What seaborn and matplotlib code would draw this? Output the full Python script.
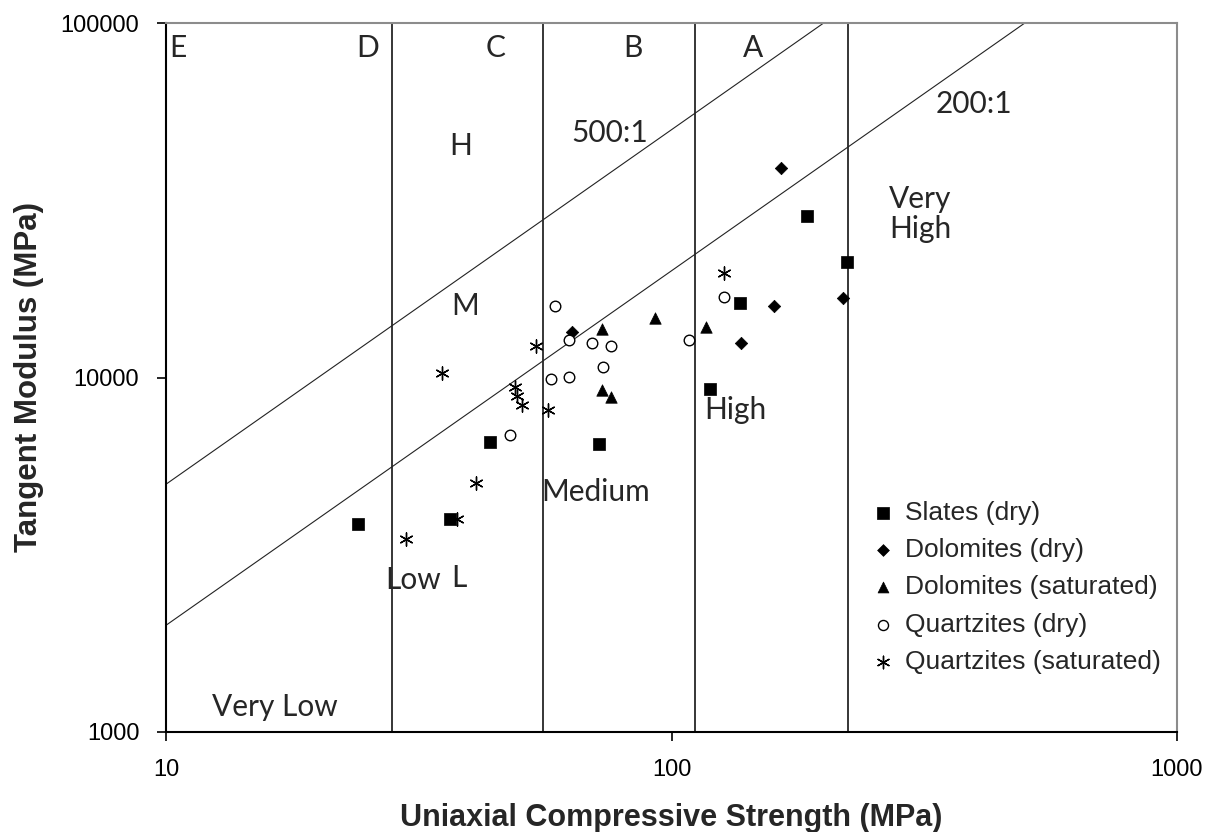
import numpy as np
import pandas as pd
import matplotlib
matplotlib.use("Agg")
import matplotlib.pyplot as plt
import seaborn as sns

# ---- data: uniaxial compressive strength (MPa) and tangent modulus (MPa) ----
slates_dry_ucs = [24.0, 36.4, 43.8, 71.8, 118.9, 136.6, 185.1, 222.3]
slates_dry_e = [3850, 3990, 6590, 6490, 9260, 16190, 28550, 21210]

dolomites_dry_ucs = [63.7, 137.4, 159.2, 164.8, 218.3]
dolomites_dry_e = [13470, 12490, 15910, 39070, 16800]

dolomites_sat_ucs = [73.0, 72.8, 76.0, 92.9, 117.1]
dolomites_sat_e = [13720, 9220, 8830, 14690, 13880]

quartzites_dry_ucs = [48.0, 57.7, 58.7, 62.6, 62.6, 69.6, 75.9, 73.1, 108.4, 126.9]
quartzites_dry_e = [6880, 9900, 15960, 12740, 10050, 12540, 12310, 10690, 12790, 16900]

quartzites_sat_ucs = [29.8, 35.1, 37.7, 41.1, 49.1, 49.5, 50.5, 54.0, 57.0, 126.9]
quartzites_sat_e = [3510, 10270, 3990, 5050, 9380, 8870, 8370, 12270, 8120, 19670]

series_names = ["Slates (dry)", "Dolomites (dry)", "Dolomites (saturated)",
                "Quartzites (dry)", "Quartzites (saturated)"]

# strength class boundaries (MPa) and modulus ratio lines
class_bounds = [28, 55.6, 111.5, 223]
class_letters = ["E", "D", "C", "B", "A"]
modulus_ratios = [500, 200]

x_ticks = [10, 100, 1000]
y_ticks = [1000, 10000, 100000]

sns.set_theme(style="white")
plt.rcParams["font.family"] = ["Liberation Sans", "DejaVu Sans"]

fig = plt.figure(figsize=(12.22, 8.32), dpi=100)
ax = fig.add_axes([166 / 1222, 1 - 732 / 832, (1177 - 166) / 1222, (732 - 23) / 832])

ax.set_xscale("log")
ax.set_yscale("log")
ax.set_xlim(10, 1000)
ax.set_ylim(1000, 100000)

# strength class boundaries
for b in class_bounds:
    ax.axvline(b, color="black", lw=1.1, zorder=1)

# modulus ratio lines
xr = np.array([10, 1000])
for r in modulus_ratios:
    sns.lineplot(x=xr, y=xr * r, ax=ax, color="#222222", lw=0.8, zorder=1)

frame = pd.concat([
    pd.DataFrame({"ucs": slates_dry_ucs, "e": slates_dry_e, "set": series_names[0]}),
    pd.DataFrame({"ucs": dolomites_dry_ucs, "e": dolomites_dry_e, "set": series_names[1]}),
    pd.DataFrame({"ucs": dolomites_sat_ucs, "e": dolomites_sat_e, "set": series_names[2]}),
    pd.DataFrame({"ucs": quartzites_dry_ucs, "e": quartzites_dry_e, "set": series_names[3]}),
    pd.DataFrame({"ucs": quartzites_sat_ucs, "e": quartzites_sat_e, "set": series_names[4]}),
])

styles = {
    series_names[0]: dict(marker="s", s=70, color="black", edgecolor="black", linewidth=0.5),
    series_names[1]: dict(marker="D", s=40, color="black", edgecolor="black", linewidth=0.5),
    series_names[2]: dict(marker="^", s=68, color="black", edgecolor="black", linewidth=0.5),
    series_names[3]: dict(marker="o", s=58, facecolor="white", edgecolor="black", linewidth=1.0),
    series_names[4]: dict(marker=(6, 2, 0), s=90, color="black", linewidth=1.0),
}
for name in series_names:
    sub = frame[frame["set"] == name]
    sns.scatterplot(data=sub, x="ucs", y="e", ax=ax, label=name, zorder=3, **styles[name])

# annotations
anno_font = ["Lato", "DejaVu Sans"]
tsize = 21.5
for letter, xpos in zip(class_letters, [10.56, 25.07, 44.9, 83.7, 145.2]):
    ax.text(xpos, 85000, letter, ha="center", va="center", fontsize=tsize, family=anno_font)
ax.text(38.3, 44980, "H", ha="center", va="center", fontsize=tsize, family=anno_font)
ax.text(39.0, 15910, "M", ha="center", va="center", fontsize=tsize, family=anno_font)
ax.text(37.9, 2720, "L", ha="center", va="center", fontsize=tsize, family=anno_font)
ax.text(75.4, 48950, "500:1", ha="center", va="center", fontsize=tsize, family=anno_font)
ax.text(397, 59090, "200:1", ha="center", va="center", fontsize=tsize, family=anno_font)
ax.text(269.7, 28920, "Very\nHigh", ha="left", va="center", fontsize=tsize,
        family=anno_font, linespacing=1.1)
ax.text(133.8, 8098, "High", ha="center", va="center", fontsize=tsize, family=anno_font)
ax.text(70.8, 4753, "Medium", ha="center", va="center", fontsize=tsize, family=anno_font)
ax.text(30.8, 2685, "Low", ha="center", va="center", fontsize=tsize, family=anno_font)
ax.text(16.42, 1176, "Very Low", ha="center", va="center", fontsize=tsize, family=anno_font)

# axes styling
ax.minorticks_off()
ax.set_xticks(x_ticks)
ax.set_xticklabels([str(t) for t in x_ticks], fontsize=17)
ax.set_yticks(y_ticks)
ax.set_yticklabels([str(t) for t in y_ticks], fontsize=17)
ax.tick_params(axis="both", which="major", direction="out", length=6.2, width=1.2,
               color="black", labelcolor="black", bottom=True, left=True)
ax.tick_params(axis="x", pad=13)
ax.tick_params(axis="y", pad=13)

for side in ["left", "bottom"]:
    ax.spines[side].set_color("black")
    ax.spines[side].set_linewidth(1.5)
for side in ["top", "right"]:
    ax.spines[side].set_color("#8c8c8c")
    ax.spines[side].set_linewidth(1.5)

ax.set_xlabel("Uniaxial Compressive Strength (MPa)", fontsize=22, fontweight="bold", labelpad=16)
ax.set_ylabel("Tangent Modulus (MPa)", fontsize=22.5, fontweight="bold", labelpad=12)

leg = ax.legend(loc="upper left", bbox_to_anchor=((872 - 166) / 1011, (732 - 501) / 709),
                frameon=False, fontsize=19, handlelength=0.8, handletextpad=0.45,
                labelspacing=0.5, borderpad=0, borderaxespad=0, markerscale=0.95)

fig.savefig("out.png", dpi=100)
